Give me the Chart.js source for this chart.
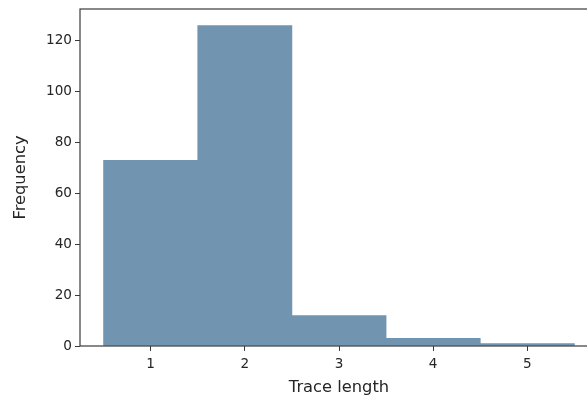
<!DOCTYPE html>
<html>
<head>
<meta charset="utf-8">
<script src="https://cdn.jsdelivr.net/npm/chart.js@4"></script>
<style>
  html, body { margin: 0; padding: 0; background: #fff; overflow: hidden; }
  #wrap { width: 610px; height: 400px; }
</style>
</head>
<body>
<div id="wrap"><canvas id="myChart" width="610" height="400"></canvas></div>
<script>
// histogram bins (centre of each bin) and counts
const traceLengths = [1, 2, 3, 4, 5];
const frequencies = [73, 126, 12, 3, 1];
const xTicks = [1, 2, 3, 4, 5];
const yTicks = [0, 20, 40, 60, 80, 100, 120];

const barColor = 'rgb(113, 148, 176)';
const axisColor = '#3a3a3a';
const textColor = '#262626';

// box around the plot area, like matplotlib spines
const frame = {
    id: 'frame',
    afterDraw(chart) {
        const a = chart.chartArea;
        const c = chart.ctx;
        c.save();
        c.strokeStyle = axisColor;
        c.lineWidth = 1.2;
        c.strokeRect(a.left, a.top, a.right - a.left, a.bottom - a.top);
        c.restore();
    }
};

const points = traceLengths.map(function (x, i) { return { x: x, y: frequencies[i] }; });

new Chart(document.getElementById('myChart'), {
    type: 'bar',
    data: {
        datasets: [{
            data: points,
            backgroundColor: barColor,
            borderWidth: 0,
            barPercentage: 1,
            categoryPercentage: 1
        }]
    },
    plugins: [frame],
    options: {
        responsive: false,
        animation: false,
        layout: { padding: { left: 11, right: 12, top: 9, bottom: 0 } },
        plugins: { legend: { display: false }, tooltip: { enabled: false } },
        scales: {
            x: {
                type: 'linear',
                offset: false,
                min: 0.25,
                max: 5.75,
                afterBuildTicks: function (s) { s.ticks = xTicks.map(function (v) { return { value: v }; }); },
                afterFit: function (s) { s.height = 54; s.paddingLeft = 0; s.paddingRight = 0; },
                grid: { offset: false, drawOnChartArea: false, color: axisColor, tickLength: 5, tickWidth: 1 },
                border: { display: false },
                ticks: { color: textColor, font: { family: 'DejaVu Sans', size: 13.6 }, padding: 5, maxRotation: 0 },
                title: { display: true, text: 'Trace length', color: textColor, font: { family: 'DejaVu Sans', size: 16.3 }, padding: { top: 0, bottom: 2 } }
            },
            y: {
                min: 0,
                max: 132.5,
                afterBuildTicks: function (s) { s.ticks = yTicks.map(function (v) { return { value: v }; }); },
                afterFit: function (s) { s.width = 69; s.paddingTop = 0; s.paddingBottom = 0; },
                grid: { drawOnChartArea: false, color: axisColor, tickLength: 5, tickWidth: 1 },
                border: { display: false },
                ticks: { color: textColor, font: { family: 'DejaVu Sans', size: 13.6 }, padding: 3 },
                title: { display: true, text: 'Frequency', color: textColor, font: { family: 'DejaVu Sans', size: 16.3 }, padding: { top: 0, bottom: 4 } }
            }
        }
    }
});
</script>
</body>
</html>
